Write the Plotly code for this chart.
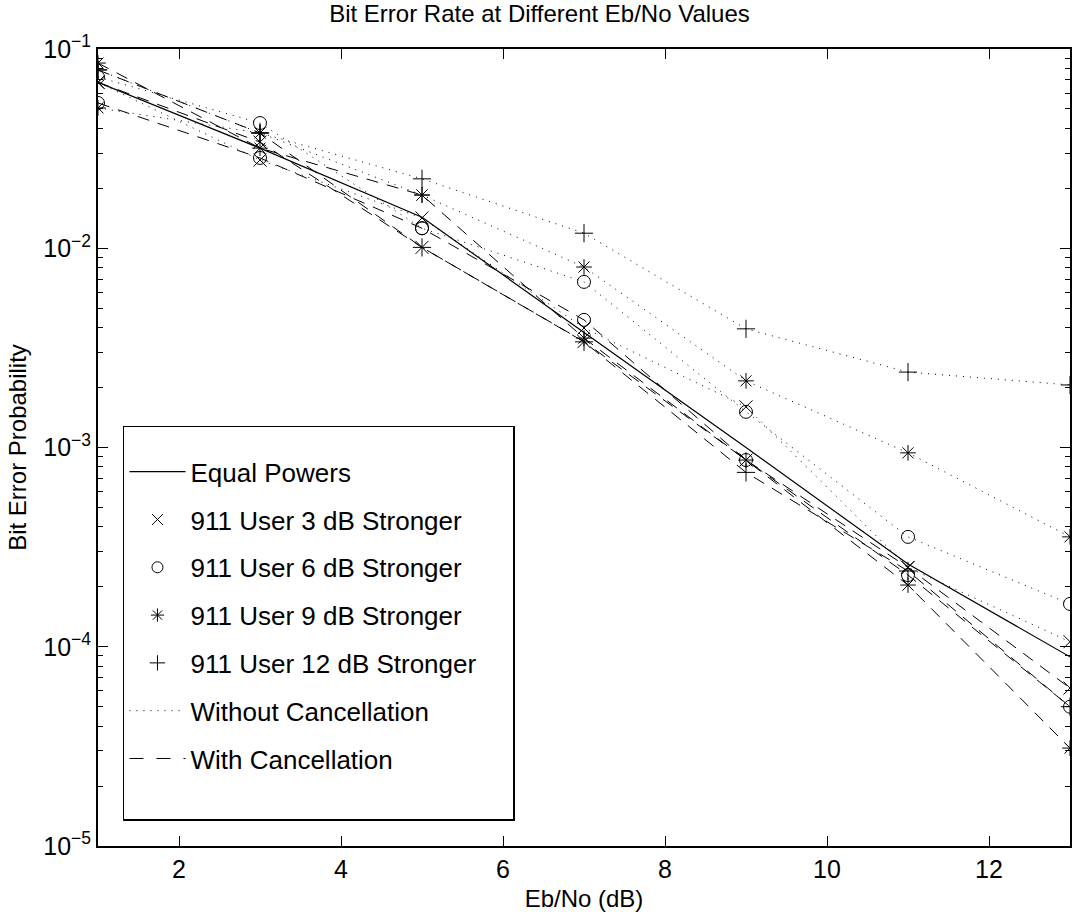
import plotly.graph_objects as go

# ---------------- data ----------------
ebno = [1, 3, 5, 7, 9, 11, 13]

equal_powers = [0.068, 0.0318, 0.0143, 0.0038, 1.0e-3, 2.6e-4, 8.9e-5]

# without cancellation (dotted)
wo_3db = [0.068, 0.0277, 0.0142, 3.98e-3, 1.6e-3, 2.5e-4, 1.06e-4]
wo_6db = [0.0723, 0.0425, 0.0126, 6.78e-3, 1.51e-3, 3.56e-4, 1.64e-4]
wo_9db = [0.0506, 0.0379, 0.0185, 8.05e-3, 2.16e-3, 9.4e-4, 3.56e-4]
wo_12db = [0.0785, 0.0379, 0.0223, 0.0119, 3.94e-3, 2.39e-3, 2.06e-3]

# with cancellation (dashed)
wc_3db = [0.068, 0.0341, 0.0101, 3.4e-3, 8.65e-4, 2.5e-4, 6.2e-5]
wc_6db = [0.0536, 0.0284, 0.0126, 4.37e-3, 8.65e-4, 2.29e-4, 5.0e-5]
wc_9db = [0.085, 0.0318, 0.0185, 3.54e-3, 8.65e-4, 2.04e-4, 3.1e-5]
wc_12db = [0.0785, 0.0379, 0.0101, 3.39e-3, 7.5e-4, 2.4e-4, 5.0e-5]

x_ticks = [2, 4, 6, 8, 10, 12]
y_ticks = [1e-5, 1e-4, 1e-3, 1e-2, 1e-1]
y_ticktext = ["10<sup>−5</sup>", "10<sup>−4</sup>", "10<sup>−3</sup>", "10<sup>−2</sup>", "10<sup>−1</sup>"]

legend_names = ["Equal Powers", "911 User 3 dB Stronger", "911 User 6 dB Stronger",
                "911 User 9 dB Stronger", "911 User 12 dB Stronger",
                "Without Cancellation", "With Cancellation"]

FONT = "Liberation Sans, Arial, Helvetica, sans-serif"
BLACK = "black"
MSIZE = 13
DOT = "1px,6px"
DASH = "12px,9px"

fig = go.Figure()

def add_series(y, symbol, dash):
    fig.add_trace(go.Scatter(
        x=ebno, y=y, mode="lines+markers", showlegend=False,
        line=dict(color=BLACK, width=1, dash=dash),
        marker=dict(symbol=symbol, size=MSIZE, color=BLACK,
                    line=dict(color=BLACK, width=1)),
    ))

fig.add_trace(go.Scatter(x=ebno, y=equal_powers, mode="lines", showlegend=False,
                         line=dict(color=BLACK, width=1.2)))
for y, s in [(wo_3db, "x-thin-open"), (wo_6db, "circle-open"),
             (wo_9db, "asterisk-open"), (wo_12db, "cross-thin-open")]:
    add_series(y, s, DOT)
for y, s in [(wc_3db, "x-thin-open"), (wc_6db, "circle-open"),
             (wc_9db, "asterisk-open"), (wc_12db, "cross-thin-open")]:
    add_series(y, s, DASH)

# ---------------- legend entries ----------------
fig.add_trace(go.Scatter(x=[None], y=[None], mode="lines", name=legend_names[0],
                         legendgroup="g0", line=dict(color=BLACK, width=1.2)))
for i, s in enumerate(["x-thin-open", "circle-open", "asterisk-open", "cross-thin-open"]):
    fig.add_trace(go.Scatter(x=[None], y=[None], mode="markers", name=legend_names[i + 1],
                             legendgroup=f"g{i+1}",
                             marker=dict(symbol=s, size=11, color=BLACK,
                                         line=dict(color=BLACK, width=1))))
fig.add_trace(go.Scatter(x=[None], y=[None], mode="lines", name=legend_names[5],
                         legendgroup="g5", line=dict(color=BLACK, width=1, dash="1px,6px")))
fig.add_trace(go.Scatter(x=[None], y=[None], mode="lines", name=legend_names[6],
                         legendgroup="g6", line=dict(color=BLACK, width=1, dash="14px,13px")))
# blank spacer entry (bottom padding and width of the legend box)
fig.add_trace(go.Scatter(x=[None], y=[None], mode="markers", name="\u00a0" * 44,
                         legendgroup="g6", marker=dict(size=1, color="rgba(0,0,0,0)")))

fig.update_layout(
    width=1079, height=919,
    margin=dict(l=98, r=7, t=49, b=73),
    paper_bgcolor="white", plot_bgcolor="white",
    font=dict(family=FONT, size=24, color=BLACK),
    title=dict(text="Bit Error Rate at Different Eb/No Values", x=0.5, xanchor="center",
               y=0.994, yanchor="top", font=dict(size=24, family=FONT, color=BLACK)),
    legend=dict(x=0.0257, y=0.527, xanchor="left", yanchor="top",
                bgcolor="white", bordercolor=BLACK, borderwidth=1.5,
                font=dict(size=26, family=FONT, color=BLACK),
                title=dict(text="\u00a0", font=dict(size=16)),
                tracegroupgap=11, itemwidth=56, traceorder="grouped"),
    showlegend=True,
)

fig.update_xaxes(range=[1, 13], tickvals=x_ticks, ticks="inside", ticklen=10,
                 tickwidth=1, tickcolor=BLACK, showline=True, linecolor=BLACK,
                 linewidth=2, mirror="ticks", showgrid=False, zeroline=False,
                 tickfont=dict(size=25, family=FONT),
                 title=dict(text="Eb/No (dB)", font=dict(size=24, family=FONT), standoff=8))
fig.update_yaxes(type="log", range=[-5, -1], tickvals=y_ticks, ticktext=y_ticktext,
                 ticks="inside", ticklen=10, tickwidth=1, tickcolor=BLACK,
                 showline=True, linecolor=BLACK, linewidth=2, mirror="ticks",
                 showgrid=False, zeroline=False,
                 minor=dict(ticks="inside", ticklen=5, tickcolor=BLACK, dtick="D1", showgrid=False),
                 tickfont=dict(size=25, family=FONT),
                 title=dict(text="Bit Error Probability", font=dict(size=24, family=FONT), standoff=10))

fig.write_html("out.html")
